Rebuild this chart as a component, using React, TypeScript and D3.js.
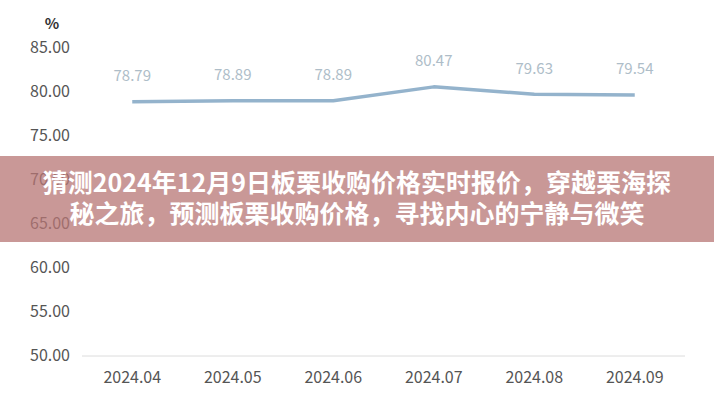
import React from "react";
import { scaleBand, scaleLinear, line as d3Line } from "d3";

const months = ["2024.04", "2024.05", "2024.06", "2024.07", "2024.08", "2024.09"];
const prices = [78.79, 78.89, 78.89, 80.47, 79.63, 79.54];
const yTicks = [50, 55, 60, 65, 70, 75, 80, 85];
const bannerLines = [
  "猜测2024年12月9日板栗收购价格实时报价，穿越栗海探",
  "秘之旅，预测板栗收购价格，寻找内心的宁静与微笑",
];

const W = 714;
const H = 400;
const font = "'Noto Sans CJK SC', 'Noto Sans', sans-serif";

export default function App() {
  const x = scaleBand<string>().domain(months).range([82, 685]);
  const y = scaleLinear().domain([50, 85]).range([355, 47]);
  const cx = (m: string) => (x(m) ?? 0) + x.bandwidth() / 2;

  const path = d3Line<number>()
    .x((_, i) => cx(months[i]))
    .y((d) => y(d))(prices);

  return (
    <svg
      width={W}
      height={H}
      style={{ position: "absolute", left: 0, top: 0, background: "#fff" }}
      fontFamily={font}
    >
      {/* unit */}
      <text x={52} y={29} textAnchor="middle" fontSize={15} fontWeight="bold" fill="#333">
        %
      </text>

      {/* y ticks */}
      {yTicks.map((t) => (
        <text key={t} x={70} y={y(t)} dy="0.35em" textAnchor="end" fontSize={16} fill="#555">
          {t.toFixed(2)}
        </text>
      ))}

      {/* baseline */}
      <line x1={82} x2={685} y1={y(50) + 1} y2={y(50) + 1} stroke="#dcdcdc" strokeWidth={1} />

      {/* x labels */}
      {months.map((m) => (
        <text key={m} x={cx(m)} y={377} dy="0.35em" textAnchor="middle" fontSize={16} fill="#555">
          {m}
        </text>
      ))}

      {/* series */}
      <path d={path ?? ""} fill="none" stroke="#94b3cc" strokeWidth={3.5} strokeLinejoin="round" />
      {prices.map((p, i) => (
        <text
          key={i}
          x={cx(months[i])}
          y={y(p) - 26}
          dy="0.35em"
          textAnchor="middle"
          fontSize={15}
          fill="#aebdc8"
        >
          {p.toFixed(2)}
        </text>
      ))}

      {/* banner overlay */}
      <rect x={0} y={156} width={W} height={86} fill="rgb(183,118,116)" opacity={0.75} />
      {bannerLines.map((s, i) => (
        <text
          key={i}
          x={357}
          y={183 + i * 31}
          dy="0.35em"
          textAnchor="middle"
          fontSize={25}
          fontWeight="bold"
          fill="#fff"
        >
          {s}
        </text>
      ))}
    </svg>
  );
}
